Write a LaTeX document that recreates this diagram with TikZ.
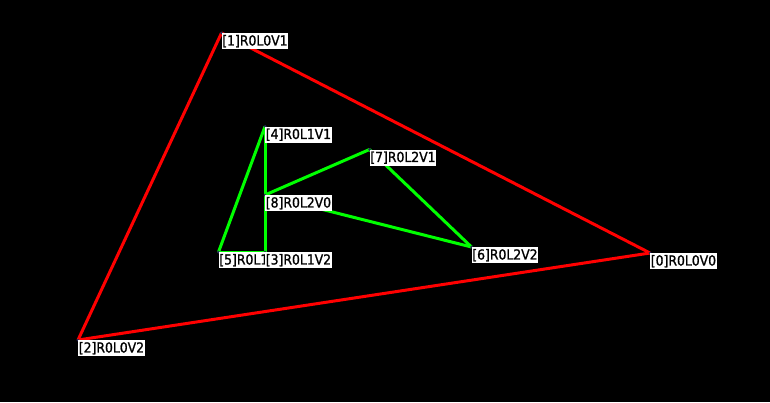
\documentclass[tikz,border=0pt]{standalone}
\usepackage{fontspec}
\setmainfont{DejaVu Sans Condensed}[FakeBold=1.2]
\begin{document}
\begin{tikzpicture}[x=1pt,y=-1pt,
  lbl/.style={fill=white,text=black,anchor=north west,inner xsep=0.6pt,inner ysep=1.8pt,font=\fontsize{13.8}{15}\selectfont},
  redge/.style={draw=red,line width=3pt},
  gedge/.style={draw={rgb,255:red,0;green,255;blue,0},line width=3pt},
  vdot/.style={fill={rgb,255:red,40;green,40;blue,90},circle,inner sep=0pt,minimum size=3pt}]
\fill[black] (0,0) rectangle (770,402);
\useasboundingbox (0,0) rectangle (770,402);
\coordinate (v0) at (650,253);
\coordinate (v1) at (221.5,33);
\coordinate (v2) at (78,340);
\coordinate (v3) at (265,252);
\coordinate (v4) at (265,126.5);
\coordinate (v5) at (218.5,252);
\coordinate (v6) at (471.5,247);
\coordinate (v7) at (369.5,149.5);
\coordinate (v8) at (265,195);
\draw[redge] (v1) -- (v0);
\draw[redge] (v1) -- (v2);
\draw[redge] (v2) -- (v0);
\draw[gedge] (v4) -- (v5);
\draw[gedge] (v4) -- (v8);
\draw[gedge] (v8) -- (v3);
\draw[gedge] (v5) -- (v3);
\draw[gedge] (v8) -- (v7);
\draw[gedge] (v7) -- (v6);
\draw[gedge] (v8) -- (v6);
\foreach \i in {0,...,8} {\node[vdot] (d\i) at (v\i) {};}
\node[lbl] (l0) at (v0) {[0]R0L0V0};
\node[lbl] (l1) at (v1) {[1]R0L0V1};
\node[lbl] (l2) at (v2) {[2]R0L0V2};
\node[lbl] (l5) at (v5) {[5]R0L1};
\node[lbl] (l3) at (v3) {[3]R0L1V2};
\node[lbl] (l4) at (v4) {[4]R0L1V1};
\node[lbl] (l6) at (v6) {[6]R0L2V2};
\node[lbl] (l7) at (v7) {[7]R0L2V1};
\node[lbl] (l8) at (v8) {[8]R0L2V0};
\end{tikzpicture}
\end{document}
